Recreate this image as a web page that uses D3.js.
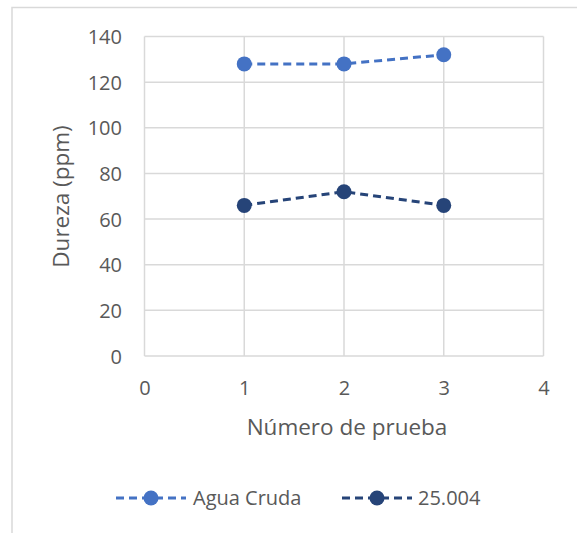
<!DOCTYPE html>
<html><head><meta charset="utf-8">
<script src="https://cdn.jsdelivr.net/npm/d3@7"></script>
<style>body{margin:0;background:#fff}svg{display:block}text{font-family:"Open Sans","Liberation Sans",sans-serif;fill:#595959}</style>
</head><body><svg id="c" width="577" height="533"></svg>
<script>
const xValues = [1, 2, 3];
const seriesNames = ["Agua Cruda", "25.004"];
const aguaCruda = [128, 128, 132];
const s25004 = [66, 72, 66];
const xTicks = [0, 1, 2, 3, 4];
const yTicks = [0, 20, 40, 60, 80, 100, 120, 140];
const xTitle = "Número de prueba";
const yTitle = "Dureza (ppm)";
const colors = ["#4472C4", "#264478"];

const FONT = '"Open Sans","Liberation Sans",sans-serif';
const svg = d3.select("#c");
svg.append("rect").attr("x", 12).attr("y", 7.5).attr("width", 600).attr("height", 600)
  .attr("fill", "#fff").attr("stroke", "#d9d9d9").attr("stroke-width", 1.5);

const x = d3.scaleLinear().domain([0, 4]).range([144.5, 543.5]);
const y = d3.scaleLinear().domain([0, 140]).range([356, 36.5]);
const grid = "#d9d9d9";

const gx = svg.append("g");
xTicks.forEach(t => {
  gx.append("line").attr("x1", x(t)).attr("x2", x(t)).attr("y1", y(0)).attr("y2", y(140))
    .attr("stroke", grid).attr("stroke-width", 1.5);
});
yTicks.forEach(t => {
  gx.append("line").attr("x1", x(0)).attr("x2", x(4)).attr("y1", y(t)).attr("y2", y(t))
    .attr("stroke", grid).attr("stroke-width", 1.5);
});

const xAxis = svg.append("g").attr("transform", `translate(0,${y(0)})`)
  .call(d3.axisBottom(x).tickValues(xTicks).tickSize(0).tickPadding(0).tickFormat(d3.format("d")));
xAxis.select(".domain").remove();
xAxis.selectAll("text").attr("y", 39).attr("dy", null)
  .style("font-size", "20px").style("fill", "#595959").style("font-family", FONT);

const yAxis = svg.append("g").attr("transform", `translate(122,0)`)
  .call(d3.axisLeft(y).tickValues(yTicks).tickSize(0).tickPadding(0).tickFormat(d3.format("d")));
yAxis.select(".domain").remove();
yAxis.selectAll("text").attr("dy", "0.36em")
  .style("font-size", "20px").style("fill", "#595959").style("font-family", FONT);

svg.append("text").attr("x", 347).attr("y", 435).attr("text-anchor", "middle")
  .style("font-size", "22.5px").text(xTitle);
svg.append("text").attr("transform", "translate(69,196.5) rotate(-90)").attr("text-anchor", "middle")
  .style("font-size", "22.5px").text(yTitle);

const series = [aguaCruda, s25004];
const line = d3.line().x((d, i) => x(xValues[i])).y(d => y(d));
series.forEach((s, k) => {
  svg.append("path").attr("d", line(s)).attr("fill", "none").attr("stroke", colors[k])
    .attr("stroke-width", 3).attr("stroke-dasharray", "8,5");
  svg.selectAll(null).data(s).enter().append("circle")
    .attr("cx", (d, i) => x(xValues[i])).attr("cy", d => y(d)).attr("r", 7.5).attr("fill", colors[k]);
});

// legend
const legY = 498;
const legItems = [{x0: 116, text: 193}, {x0: 342, text: 418}];
seriesNames.forEach((n, k) => {
  const L = legItems[k];
  svg.append("line").attr("x1", L.x0).attr("x2", L.x0 + 70).attr("y1", legY).attr("y2", legY)
    .attr("stroke", colors[k]).attr("stroke-width", 3).attr("stroke-dasharray", "8,5");
  svg.append("circle").attr("cx", L.x0 + 35).attr("cy", legY).attr("r", 7.5).attr("fill", colors[k]);
  svg.append("text").attr("x", L.text).attr("y", 505)
    .style("font-size", "20px").text(n);
});
</script></body></html>
